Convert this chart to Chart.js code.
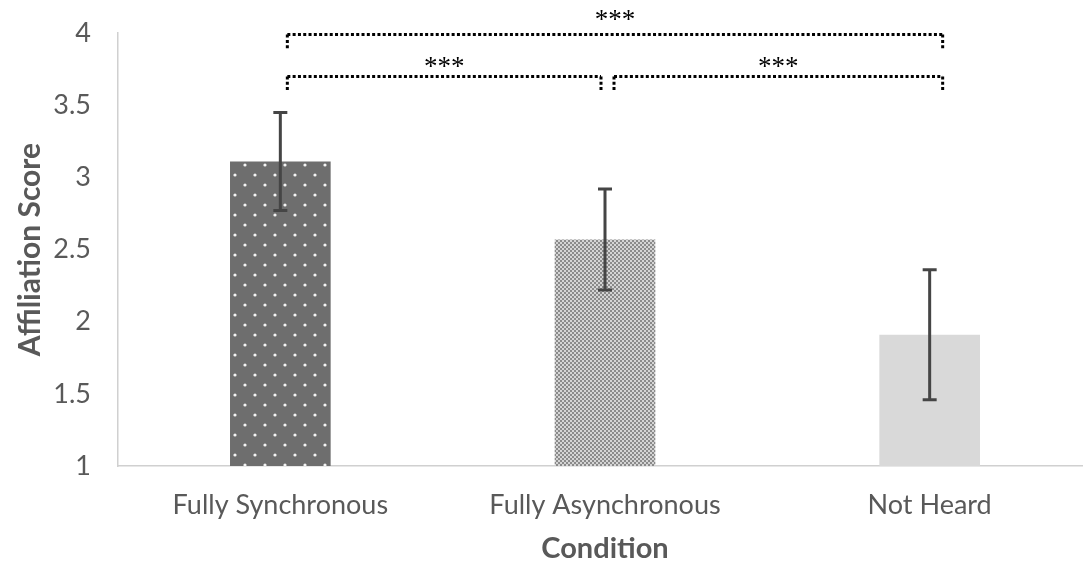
<!DOCTYPE html>
<html><head><meta charset="utf-8">
<script src="https://cdn.jsdelivr.net/npm/chart.js@4"></script>
<style>html,body{margin:0;padding:0;background:#fff}#wrap{width:1083px;height:566px}</style>
</head><body><div id="wrap"><canvas id="c" width="1083" height="566"></canvas></div>
<script>
const categories = ["Fully Synchronous", "Fully Asynchronous", "Not Heard"];
const means = [3.11, 2.57, 1.91];
const errors = [0.34, 0.35, 0.45];
const yTicks = [1, 1.5, 2, 2.5, 3, 3.5, 4];
const brackets = [
  {from: 0, to: 2, level: 3.99, label: "***"},
  {from: 0, to: 1, level: 3.70, label: "***"},
  {from: 1, to: 2, level: 3.70, label: "***"}
];

function dotPattern() {
  const p = document.createElement('canvas'); p.width = 20; p.height = 20;
  const g = p.getContext('2d');
  g.fillStyle = '#6e6e6e'; g.fillRect(0,0,20,20);
  g.fillStyle = '#f4f4f4';
  g.beginPath(); g.arc(5,5,1.6,0,Math.PI*2); g.fill();
  g.beginPath(); g.arc(15,15,1.6,0,Math.PI*2); g.fill();
  return document.createElement('canvas').getContext('2d').createPattern(p,'repeat');
}
function checkPattern() {
  const p = document.createElement('canvas'); p.width = 4; p.height = 4;
  const g = p.getContext('2d');
  g.fillStyle = '#d4d4d4'; g.fillRect(0,0,4,4);
  g.fillStyle = '#8a8a8a';
  g.fillRect(0,0,2,2); g.fillRect(2,2,2,2);
  return document.createElement('canvas').getContext('2d').createPattern(p,'repeat');
}

// the plotting area in the reference runs slightly past the right edge of the picture
const extendRight = {
  id: 'extendRight',
  afterLayout(chart) {
    const x = chart.scales.x, extra = 9;
    x.right += extra; x.width += extra;
    x.configure();
    chart.chartArea.right += extra; chart.chartArea.width += extra;
  }
};

const overlay = {
  id: 'overlay',
  afterDatasetsDraw(chart) {
    const ctx = chart.ctx, x = chart.scales.x, y = chart.scales.y;
    const meta = chart.getDatasetMeta(0);
    ctx.save();
    ctx.strokeStyle = '#454545'; ctx.lineWidth = 3;
    means.forEach((m, i) => {
      const cx = meta.data[i].x;
      const top = y.getPixelForValue(m + errors[i]);
      const bot = y.getPixelForValue(m - errors[i]);
      ctx.beginPath();
      ctx.moveTo(cx, top); ctx.lineTo(cx, bot);
      ctx.moveTo(cx - 7, top); ctx.lineTo(cx + 7, top);
      ctx.moveTo(cx - 7, bot); ctx.lineTo(cx + 7, bot);
      ctx.stroke();
    });
    ctx.strokeStyle = '#000'; ctx.lineWidth = 3;
    ctx.fillStyle = '#000';
    ctx.font = '27px "Liberation Serif", serif';
    ctx.textAlign = 'center'; ctx.textBaseline = 'alphabetic';
    brackets.forEach((b) => {
      let x1 = x.getPixelForValue(b.from) + 7;
      let x2 = x.getPixelForValue(b.to) + 13;
      if (b.from === 1) x1 = x.getPixelForValue(b.from) + 9;
      if (b.to === 1) x2 = x.getPixelForValue(b.to) - 4;
      const ly = y.getPixelForValue(b.level);
      ctx.setLineDash([3, 2.3]);
      ctx.beginPath();
      ctx.moveTo(x1, ly); ctx.lineTo(x2, ly);
      ctx.moveTo(x1, ly); ctx.lineTo(x1, ly + 15);
      ctx.moveTo(x2, ly); ctx.lineTo(x2, ly + 15);
      ctx.stroke();
      ctx.setLineDash([]);
      const wide = (b.to - b.from) > 1;
      ctx.fillText(b.label, (x1 + x2) / 2, ly + (wide ? -7 : -1));
    });
    ctx.restore();
  }
};

new Chart(document.getElementById('c'), {
  type: 'bar',
  data: {
    labels: categories,
    datasets: [{
      data: means,
      backgroundColor: [dotPattern(), checkPattern(), '#d9d9d9'],
      barPercentage: 0.62,
      categoryPercentage: 0.5
    }]
  },
  options: {
    responsive: false,
    animation: false,
    events: [],
    layout: {padding: {top: 13, right: 0, left: 12, bottom: 0}},
    plugins: {legend: {display: false}, tooltip: {enabled: false}},
    scales: {
      x: {
        afterFit(s) { s.height = 100; },
        grid: {display: false, drawTicks: false},
        border: {color: '#d0d0d0', width: 1.5},
        ticks: {color: '#595959', font: {family: 'Lato', size: 27}, padding: 23},
        title: {display: true, text: 'Condition', color: '#595959', font: {family: 'Lato', size: 29, weight: 'bold'}, padding: {top: 0, bottom: 0}}
      },
      y: {
        min: 1, max: 4,
        afterFit(s) { s.width = 106; },
        afterBuildTicks(s) { s.ticks = yTicks.map(v => ({value: v})); },
        grid: {display: false, drawOnChartArea: false, drawTicks: true, tickLength: 6, tickColor: '#d0d0d0'},
        border: {color: '#d0d0d0', width: 1.5},
        ticks: {color: '#595959', font: {family: 'Lato', size: 27, lineHeight: 0.9}, padding: 21, callback: v => String(v)},
        title: {display: true, text: 'Affiliation Score', color: '#595959', font: {family: 'Lato', size: 30, weight: 'bold'}, padding: {top: 0, bottom: 5}}
      }
    }
  },
  plugins: [extendRight, overlay]
});
</script></body></html>
